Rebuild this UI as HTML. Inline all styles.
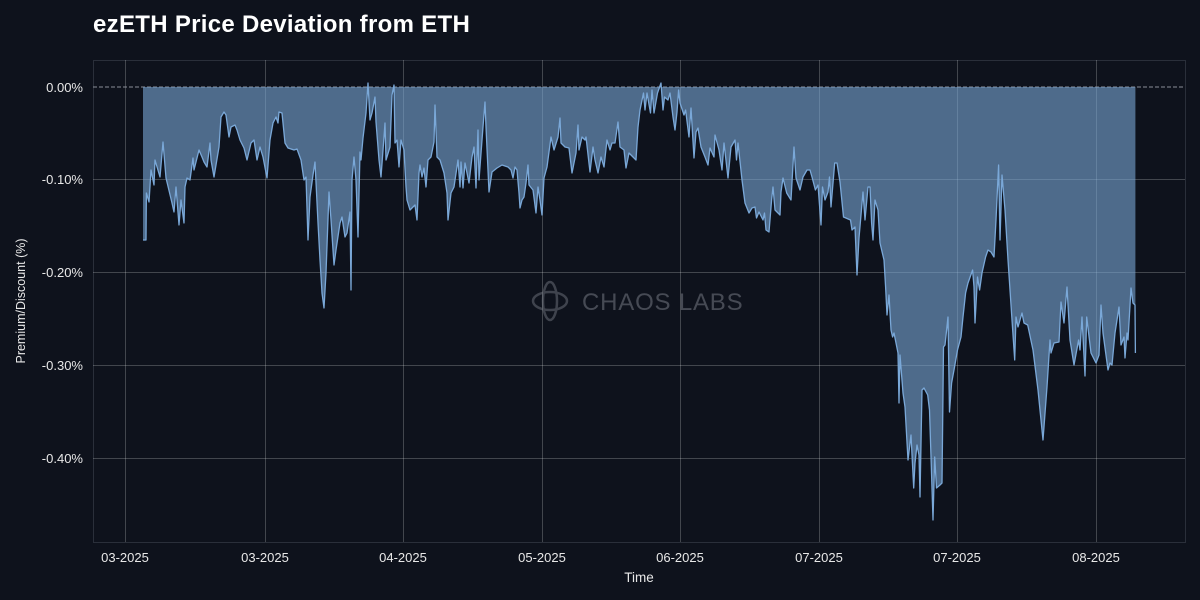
<!DOCTYPE html>
<html><head><meta charset="utf-8"><style>
html,body{margin:0;padding:0;background:#0e121c;}
svg{display:block;font-family:"Liberation Sans",sans-serif;}
</style></head><body>
<svg width="1200" height="600" viewBox="0 0 1200 600" xmlns="http://www.w3.org/2000/svg">
<rect width="1200" height="600" fill="#0e121c"/>
<text x="93" y="32" fill="#ffffff" font-size="24" font-weight="bold" letter-spacing="0.3">ezETH Price Deviation from ETH</text>
<rect x="93.5" y="60.5" width="1092" height="482" fill="none" stroke="#2a2f3a" stroke-width="1"/>
<g stroke="#ffffff" stroke-opacity="0.22" stroke-width="1">
<line x1="93" y1="179.5" x2="1185" y2="179.5"/>
<line x1="93" y1="272.5" x2="1185" y2="272.5"/>
<line x1="93" y1="365.5" x2="1185" y2="365.5"/>
<line x1="93" y1="458.5" x2="1185" y2="458.5"/>
<line x1="125.5" y1="60" x2="125.5" y2="542"/>
<line x1="265.5" y1="60" x2="265.5" y2="542"/>
<line x1="403.5" y1="60" x2="403.5" y2="542"/>
<line x1="542.5" y1="60" x2="542.5" y2="542"/>
<line x1="680.5" y1="60" x2="680.5" y2="542"/>
<line x1="819.5" y1="60" x2="819.5" y2="542"/>
<line x1="957.5" y1="60" x2="957.5" y2="542"/>
<line x1="1096.5" y1="60" x2="1096.5" y2="542"/>
</g>
<g font-size="13" fill="#e8e8e8" text-anchor="end">
<text x="83" y="92">0.00%</text>
<text x="83" y="184">-0.10%</text>
<text x="83" y="277">-0.20%</text>
<text x="83" y="370">-0.30%</text>
<text x="83" y="463">-0.40%</text>
</g>
<g font-size="13" fill="#e8e8e8" text-anchor="middle">
<text x="125" y="562">03-2025</text>
<text x="265" y="562">03-2025</text>
<text x="403" y="562">04-2025</text>
<text x="542" y="562">05-2025</text>
<text x="680" y="562">06-2025</text>
<text x="819" y="562">07-2025</text>
<text x="957" y="562">07-2025</text>
<text x="1096" y="562">08-2025</text>
<text x="639" y="582" font-size="13.5">Time</text>
</g>
<text transform="translate(25,301) rotate(-90)" font-size="12.5" fill="#e8e8e8" text-anchor="middle">Premium/Discount (%)</text>
<g opacity="0.35" stroke="#9aa0aa" fill="none" stroke-width="2.5">
<ellipse cx="550" cy="301" rx="17" ry="9"/>
<ellipse cx="550" cy="301" rx="7" ry="19"/>
</g>
<text x="582" y="310" font-size="24" fill="#9aa0aa" fill-opacity="0.4" letter-spacing="0.8">CHAOS LABS</text>
<line x1="93" y1="87" x2="1185" y2="87" stroke="#8a8f99" stroke-width="1" stroke-dasharray="4,2"/>
<polygon fill="#7aa6d6" fill-opacity="0.6" points="143,87 143,240 146,240 146.4,193 149,202 151,170 154,185 155,160 160,177 163,142 166,178 172,203 174,212 176,187 179,225 181,200 184,223 185,187 187,178 190,180 193,158 194,170 199,150 202,157 204,162 207,167 210,143 211,160 214,177 219,147 221,117 224,112 226,115 229,137 231,127 235,125 237,130 240,140 244,148 247,160 251,143 254,140 257,160 260,147 263,157 267,178 270,140 273,123 276,117 278,123 279,112 282,113 285,143 288,148 294,150 297,149 301,160 304,180 306,177 308,240 310,197 313,175 315,162 318,223 320,260 322,293 324,308 326,273 329,192 331,220 334,265 336,250 340,223 342,217 345,237 347,233 350,212 351,290 352,180 354,157 356,180 358,237 360,152 361,160 363,138 366,113 368,83 370,120 372,113 375,97 376,122 379,160 381,177 384,137 385,123 386,160 390,147 392,95 394,85 395,143 397,140 399,167 401,140 404,150 406,187 407,200 410,210 413,207 415,205 417,220 419,173 420,165 422,177 424,168 426,187 428,160 431,157 434,142 435,105 437,157 440,160 444,173 447,193 448,220 451,193 454,187 458,160 460,187 461,162 463,188 465,163 469,183 472,157 474,147 476,188 478,130 479,180 483,127 485,102 486,127 489,192 492,172 497,168 502,165 508,167 511,170 513,178 515,167 517,170 519,193 520,208 522,200 524,197 526,183 528,165 529,185 533,190 536,213 538,187 540,200 542,215 544,178 547,167 551,137 554,150 558,137 560,118 561,143 565,147 569,148 572,173 576,153 578,125 579,150 582,137 585,140 586,137 590,172 593,147 595,160 598,173 601,157 604,167 607,140 610,150 612,143 615,143 618,122 620,147 624,150 626,168 629,153 633,157 636,160 638,127 640,110 643.5,93 645,110 647,93 650.5,113 652,90 654,113 657.5,93 661,83 663,110 664.5,97 668,100 670,93 673,117 675,130 677,112 678.6,90 680,103 684,115 685.6,110 689,137 691,108 694,158 696,132 698,128 701,147 705,157 708,165 710,148 714,157 715,135 719,150 722,170 724,143 728,178 731,147 735,140 736.5,160 738,143 742,180 745,203 749,213 752,208 755,207 756.5,218 759,212 763,220 764.5,213 766,230 769,232 771.6,200 773,187 775,210 780,215 781,192 783,178 786.7,193 791,200 794,147 796,178 800,190 803,177 807,170 810,170 812,177 815.4,190 818,185 821,225 822.5,187 825,200 828,192 829.5,177 831,207 834.7,163 837,163 840,182 843.5,217 850.5,220 852,230 855,227 857,275 859,238 863,192 865,220 868,187 870,187 871.6,223 873,240 875,200 878,210 880,243 884,260 885.6,287 887,315 889,295 891,330 892.6,337 894,333 896,343 898,353 899,403 900,355 903,393 905,407 908,460 911,435 913.7,488 915,463 917,445 919,455 920,497 922,390 924,388 927.7,395 929.5,410 931,457 933,520 934.7,457 936.5,488 940,485 942,483 943.5,347 945,345 948,317 949.5,412 951.6,383 954,370 957.5,350 961,337 963,317 965.6,293 968,283 972.6,270 974,287 975,323 977.5,277 979.6,290 982,273 985.6,257 988,250 991,252 994,257 996,220 998.6,165 1000,240 1002,175 1005,210 1008,260 1012,320 1014.7,360 1016,317 1018,327 1022,313 1024,323 1027.7,325 1033,350 1038,390 1043,440 1047,387 1050,340 1051,353 1054,343 1059,342 1061,302 1064,323 1067,287 1070,340 1074,365 1078.6,340 1080,350 1082,317 1085,376 1086.7,317 1091,353 1096,363 1099,355 1101,305 1103,333 1108,370 1110,363 1112,365 1115,333 1119,307 1121,345 1124,337 1125,358 1127,333 1128,340 1131,288 1133,303 1135,305 1135.4,353 1135.4,87"/>
<polyline fill="none" stroke="#7aa8d8" stroke-width="1.3" stroke-linejoin="round" points="143,240 146,240 146.4,193 149,202 151,170 154,185 155,160 160,177 163,142 166,178 172,203 174,212 176,187 179,225 181,200 184,223 185,187 187,178 190,180 193,158 194,170 199,150 202,157 204,162 207,167 210,143 211,160 214,177 219,147 221,117 224,112 226,115 229,137 231,127 235,125 237,130 240,140 244,148 247,160 251,143 254,140 257,160 260,147 263,157 267,178 270,140 273,123 276,117 278,123 279,112 282,113 285,143 288,148 294,150 297,149 301,160 304,180 306,177 308,240 310,197 313,175 315,162 318,223 320,260 322,293 324,308 326,273 329,192 331,220 334,265 336,250 340,223 342,217 345,237 347,233 350,212 351,290 352,180 354,157 356,180 358,237 360,152 361,160 363,138 366,113 368,83 370,120 372,113 375,97 376,122 379,160 381,177 384,137 385,123 386,160 390,147 392,95 394,85 395,143 397,140 399,167 401,140 404,150 406,187 407,200 410,210 413,207 415,205 417,220 419,173 420,165 422,177 424,168 426,187 428,160 431,157 434,142 435,105 437,157 440,160 444,173 447,193 448,220 451,193 454,187 458,160 460,187 461,162 463,188 465,163 469,183 472,157 474,147 476,188 478,130 479,180 483,127 485,102 486,127 489,192 492,172 497,168 502,165 508,167 511,170 513,178 515,167 517,170 519,193 520,208 522,200 524,197 526,183 528,165 529,185 533,190 536,213 538,187 540,200 542,215 544,178 547,167 551,137 554,150 558,137 560,118 561,143 565,147 569,148 572,173 576,153 578,125 579,150 582,137 585,140 586,137 590,172 593,147 595,160 598,173 601,157 604,167 607,140 610,150 612,143 615,143 618,122 620,147 624,150 626,168 629,153 633,157 636,160 638,127 640,110 643.5,93 645,110 647,93 650.5,113 652,90 654,113 657.5,93 661,83 663,110 664.5,97 668,100 670,93 673,117 675,130 677,112 678.6,90 680,103 684,115 685.6,110 689,137 691,108 694,158 696,132 698,128 701,147 705,157 708,165 710,148 714,157 715,135 719,150 722,170 724,143 728,178 731,147 735,140 736.5,160 738,143 742,180 745,203 749,213 752,208 755,207 756.5,218 759,212 763,220 764.5,213 766,230 769,232 771.6,200 773,187 775,210 780,215 781,192 783,178 786.7,193 791,200 794,147 796,178 800,190 803,177 807,170 810,170 812,177 815.4,190 818,185 821,225 822.5,187 825,200 828,192 829.5,177 831,207 834.7,163 837,163 840,182 843.5,217 850.5,220 852,230 855,227 857,275 859,238 863,192 865,220 868,187 870,187 871.6,223 873,240 875,200 878,210 880,243 884,260 885.6,287 887,315 889,295 891,330 892.6,337 894,333 896,343 898,353 899,403 900,355 903,393 905,407 908,460 911,435 913.7,488 915,463 917,445 919,455 920,497 922,390 924,388 927.7,395 929.5,410 931,457 933,520 934.7,457 936.5,488 940,485 942,483 943.5,347 945,345 948,317 949.5,412 951.6,383 954,370 957.5,350 961,337 963,317 965.6,293 968,283 972.6,270 974,287 975,323 977.5,277 979.6,290 982,273 985.6,257 988,250 991,252 994,257 996,220 998.6,165 1000,240 1002,175 1005,210 1008,260 1012,320 1014.7,360 1016,317 1018,327 1022,313 1024,323 1027.7,325 1033,350 1038,390 1043,440 1047,387 1050,340 1051,353 1054,343 1059,342 1061,302 1064,323 1067,287 1070,340 1074,365 1078.6,340 1080,350 1082,317 1085,376 1086.7,317 1091,353 1096,363 1099,355 1101,305 1103,333 1108,370 1110,363 1112,365 1115,333 1119,307 1121,345 1124,337 1125,358 1127,333 1128,340 1131,288 1133,303 1135,305 1135.4,353"/>
</svg>
</body></html>
